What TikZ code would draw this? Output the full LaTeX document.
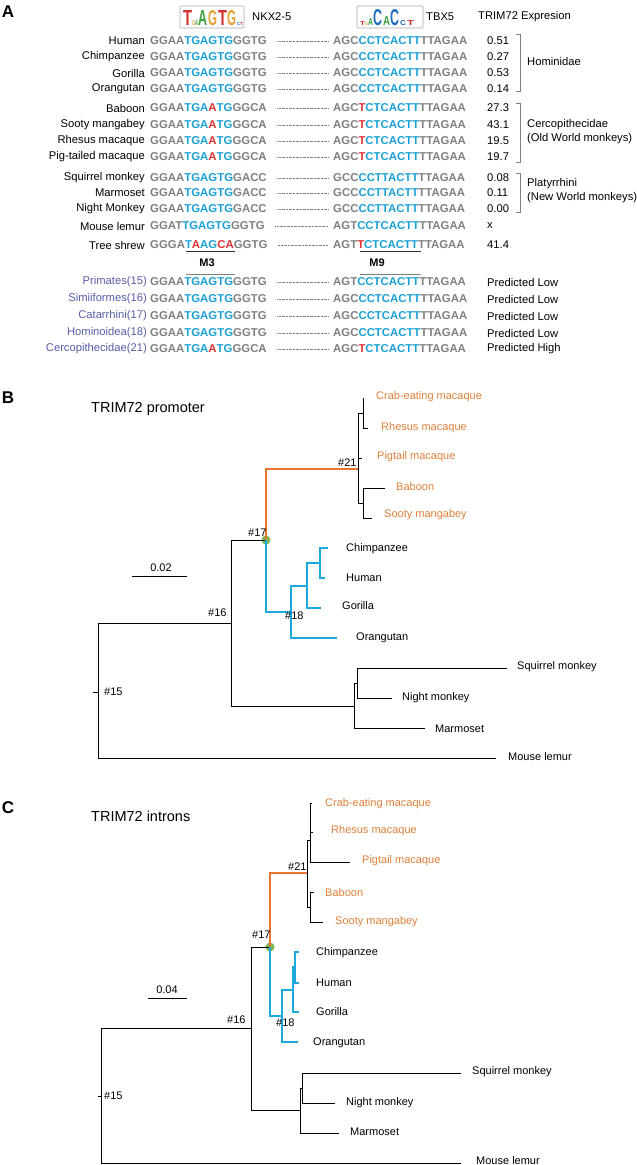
\documentclass[tikz,border=0pt]{standalone}
\usepackage{fontspec}
\setmainfont{Liberation Sans}
\usepackage{graphicx}
\usepackage{xcolor}
\usepackage{tikz}
\usetikzlibrary{calc}

\definecolor{seqblue}{RGB}{27,160,214}
\definecolor{seqgray}{RGB}{128,128,128}
\definecolor{seqred}{RGB}{220,50,50}
\definecolor{ancpurple}{RGB}{88,92,168}
\definecolor{oldworld}{RGB}{222,128,58}
\definecolor{branchorange}{RGB}{232,118,50}
\definecolor{branchcyan}{RGB}{28,170,222}
\definecolor{nodegreen}{RGB}{118,184,82}
\definecolor{logored}{RGB}{214,48,48}
\definecolor{logogreen}{RGB}{60,160,60}
\definecolor{logoorange}{RGB}{232,160,50}
\definecolor{logoblue}{RGB}{30,110,190}

\newcommand{\sqg}[1]{\textcolor{seqgray}{#1}}
\newcommand{\sqb}[1]{\textcolor{seqblue}{#1}}
\newcommand{\sqr}[1]{\textcolor{seqred}{#1}}

\begin{document}
\begin{tikzpicture}[x=1pt, y=-1pt,
    txt/.style={inner sep=0, font=\fontsize{11.2}{13}\selectfont},
    spname/.style={txt, anchor=east},
    seqtext/.style={inner sep=0, anchor=west, font=\fontsize{11.4}{13}\selectfont\bfseries},
    valtext/.style={txt, anchor=west},
    dotline/.style={seqgray, line width=0.5pt, dash pattern=on 0.5pt off 0.9pt},
    brk/.style={gray, line width=0.6pt},
    logolet/.style={anchor=south west, inner sep=0},
    panel/.style={inner sep=0, font=\fontsize{17}{18}\selectfont\bfseries},
    tip/.style={txt, anchor=west, font=\fontsize{11}{13}\selectfont},
    owtip/.style={tip, text=oldworld},
    nlab/.style={tip},
    br/.style={line width=0.9pt},
    orbr/.style={line width=2pt, branchorange},
    cybr/.style={line width=2pt, branchcyan}]

    \useasboundingbox (0,0) rectangle (637,1165);

    % ---------------- panel A ----------------
    \node[panel] (pA) at (8,12) {A};

    % logos
    \draw[gray!70, line width=0.6pt, rounded corners=1pt] (180,6) rectangle (244,28);
    \foreach \i/\x/\w/\h/\c/\l in {1/183/9/15/logored/T, 2/192/3/5/logoorange/G,
        3/195/3/5/logogreen/A, 4/198/9/15/logogreen/A, 5/208/9/15/logoorange/G,
        6/218/9/15/logored/T, 7/227/9/15/logoorange/G, 8/237/3/3/logoblue/C,
        9/240/3/3/logored/T}
      \node[logolet] (nk\i) at (\x,26) {\resizebox{\w pt}{\h pt}{\textcolor{\c}{\bfseries \l}}};
    \node[txt, anchor=west] (nkx) at (252,17) {NKX2-5};

    \draw[gray!70, line width=0.6pt, rounded corners=1pt] (357,6) rectangle (423,28);
    \foreach \i/\x/\w/\h/\c/\l in {1/360/5/4/logored/T, 2/365/3/3/logoorange/G,
        3/368/5/7/logogreen/A, 4/373/9/16/logoblue/C, 5/383/7/9/logogreen/A,
        6/390/9/16/logoblue/C, 7/400/6/5/logoblue/C, 8/407/7/5/logored/T}
      \node[logolet] (tb\i) at (\x,26) {\resizebox{\w pt}{\h pt}{\textcolor{\c}{\bfseries \l}}};
    \node[txt, anchor=west] (tbx) at (426,17) {TBX5};
    \node[txt, anchor=west] (expr) at (478,17) {TRIM72 Expresion};

    % species rows
    \foreach \i/\yy/\nm/\lsq/\rsq/\val in {
      1/41/Human/{\sqg{GGAA}\sqb{TGAGTG}\sqg{GGTG}}/{\sqg{AGC}\sqb{CCTCACTT}\sqg{TTAGAA}}/0.51,
      2/57/Chimpanzee/{\sqg{GGAA}\sqb{TGAGTG}\sqg{GGTG}}/{\sqg{AGC}\sqb{CCTCACTT}\sqg{TTAGAA}}/0.27,
      3/73/Gorilla/{\sqg{GGAA}\sqb{TGAGTG}\sqg{GGTG}}/{\sqg{AGC}\sqb{CCTCACTT}\sqg{TTAGAA}}/0.53,
      4/89/Orangutan/{\sqg{GGAA}\sqb{TGAGTG}\sqg{GGTG}}/{\sqg{AGC}\sqb{CCTCACTT}\sqg{TTAGAA}}/0.14,
      5/108/Baboon/{\sqg{GGAA}\sqb{TGA}\sqr{A}\sqb{TG}\sqg{GGCA}}/{\sqg{AGC}\sqr{T}\sqb{CTCACTT}\sqg{TTAGAA}}/27.3,
      6/125/Sooty mangabey/{\sqg{GGAA}\sqb{TGA}\sqr{A}\sqb{TG}\sqg{GGCA}}/{\sqg{AGC}\sqr{T}\sqb{CTCACTT}\sqg{TTAGAA}}/43.1,
      7/141/Rhesus macaque/{\sqg{GGAA}\sqb{TGA}\sqr{A}\sqb{TG}\sqg{GGCA}}/{\sqg{AGC}\sqr{T}\sqb{CTCACTT}\sqg{TTAGAA}}/19.5,
      8/157/Pig-tailed macaque/{\sqg{GGAA}\sqb{TGA}\sqr{A}\sqb{TG}\sqg{GGCA}}/{\sqg{AGC}\sqr{T}\sqb{CTCACTT}\sqg{TTAGAA}}/19.7,
      9/178/Squirrel monkey/{\sqg{GGAA}\sqb{TGAGTG}\sqg{GACC}}/{\sqg{GCC}\sqb{CCTTACTT}\sqg{TTAGAA}}/0.08,
      10/193/Marmoset/{\sqg{GGAA}\sqb{TGAGTG}\sqg{GACC}}/{\sqg{GCC}\sqb{CCTTACTT}\sqg{TTAGAA}}/0.11,
      11/209/Night Monkey/{\sqg{GGAA}\sqb{TGAGTG}\sqg{GACC}}/{\sqg{GCC}\sqb{CCTTACTT}\sqg{TTAGAA}}/0.00,
      12/226/Mouse lemur/{\sqg{GGAT}\sqb{TGAGTG}\sqg{GGTG}}/{\sqg{AGT}\sqb{CCTCACTT}\sqg{TTAGAA}}/x,
      13/245/Tree shrew/{\sqg{GGGA}\sqb{T}\sqr{A}\sqb{AG}\sqr{CA}\sqg{GGTG}}/{\sqg{AGT}\sqr{T}\sqb{CTCACTT}\sqg{TTAGAA}}/41.4}
    {
      \node[spname] (nm\i) at (145,\yy) {\nm};
      \node[seqtext] (ls\i) at (150,\yy) {\lsq};
      \node[seqtext] (rs\i) at (333,\yy) {\rsq};
      \draw[dotline] ([xshift=10.5pt]ls\i.east) -- ([xshift=-5pt]rs\i.west);
      \node[valtext] (vl\i) at (487,\yy) {\val};
    }

    % predicted ancestors
    \foreach \i/\yy/\nm/\lsq/\rsq/\val in {
      14/282/Primates(15)/{\sqg{GGAA}\sqb{TGAGTG}\sqg{GGTG}}/{\sqg{AGT}\sqb{CCTCACTT}\sqg{TTAGAA}}/Predicted Low,
      15/299/Simiiformes(16)/{\sqg{GGAA}\sqb{TGAGTG}\sqg{GGTG}}/{\sqg{AGC}\sqb{CCTCACTT}\sqg{TTAGAA}}/Predicted Low,
      16/316/Catarrhini(17)/{\sqg{GGAA}\sqb{TGAGTG}\sqg{GGTG}}/{\sqg{AGC}\sqb{CCTCACTT}\sqg{TTAGAA}}/Predicted Low,
      17/333/Hominoidea(18)/{\sqg{GGAA}\sqb{TGAGTG}\sqg{GGTG}}/{\sqg{AGC}\sqb{CCTCACTT}\sqg{TTAGAA}}/Predicted Low,
      18/349/Cercopithecidae(21)/{\sqg{GGAA}\sqb{TGA}\sqr{A}\sqb{TG}\sqg{GGCA}}/{\sqg{AGC}\sqr{T}\sqb{CTCACTT}\sqg{TTAGAA}}/Predicted High}
    {
      \node[spname, text=ancpurple] (nm\i) at (147,\yy) {\nm};
      \node[seqtext] (ls\i) at (150,\yy) {\lsq};
      \node[seqtext] (rs\i) at (333,\yy) {\rsq};
      \draw[dotline] ([xshift=10.5pt]ls\i.east) -- ([xshift=-5pt]rs\i.west);
      \node[valtext] (vl\i) at (487,\yy) {\val};
    }

    % motif marks
    \draw[line width=0.8pt, black!80] (186,251) -- (235,251);
    \draw[line width=0.8pt, black!80] (360,251) -- (421,251);
    \node[txt, font=\fontsize{11}{13}\selectfont\bfseries] (mthree) at (207,263) {M3};
    \node[txt, font=\fontsize{11}{13}\selectfont\bfseries] (mnine) at (377,263) {M9};
    \draw[line width=0.8pt, gray] (186,274) -- (235,274);
    \draw[line width=0.8pt, gray] (360,274) -- (421,274);

    % brackets
    \draw[brk] (516,34) -- (520,34) -- (520,91) -- (516,91);
    \draw[brk] (516,103) -- (520,103) -- (520,162) -- (516,162);
    \draw[brk] (516,173) -- (520,173) -- (520,212) -- (516,212);
    \node[txt, anchor=west] (homg) at (527,61) {Hominidae};
    \node[txt, anchor=west, align=left, font=\fontsize{11.2}{14}\selectfont] (cerg) at (527,132)
      {Cercopithecidae\\(Old World monkeys)};
    \node[txt, anchor=west, align=left, font=\fontsize{11.2}{14}\selectfont] (plag) at (527,191)
      {Platyrrhini\\(New World monkeys)};

    % ---------------- panel B ----------------
    \node[panel] (pB) at (8,398) {B};
    \node[txt, anchor=west, font=\fontsize{14.5}{16}\selectfont] (ttlB) at (91,409) {TRIM72 promoter};

    % scale bar
    \draw[br] (132,576) -- (187,576);
    \node[tip, anchor=center] (sclB) at (161,568) {0.02};

    % node 17 marker
    \fill[nodegreen] (266,540) circle (4.5);

    % backbone
    \draw[br] (93,692) -- (98,692);
    \draw[br] (231,623) -- (98,623) -- (98,758) -- (496,758);
    \draw[br] (266,540) -- (231,540) -- (231,706) -- (354,706);
    % old world clade
    \draw[orbr] (266,540) -- (266,469) -- (358,469);
    \draw[br] (358,413) -- (358,503);
    \draw[br] (358,413) -- (363,413);
    \draw[br] (363,398) -- (363,428) -- (368,428);
    \draw[br] (358,458) -- (362,458);
    \draw[br] (358,503) -- (363,503);
    \draw[br] (385,488) -- (363,488) -- (363,518) -- (372,518);
    % great apes
    \draw[cybr] (266,540) -- (266,612) -- (291,612);
    \draw[cybr] (307,586) -- (291,586) -- (291,638) -- (337,638);
    \draw[cybr] (320,563) -- (307,563) -- (307,608) -- (321,608);
    \draw[cybr] (328,548) -- (320,548) -- (320,578) -- (325,578);
    % new world clade
    \draw[br] (357,683) -- (354,683) -- (354,728) -- (425,728);
    \draw[br] (507,668) -- (357,668) -- (357,698) -- (392,698);

    \foreach \nm/\x/\y/\t in {crabB/376/397/Crab-eating macaque, rhesB/381/428/Rhesus macaque,
        pigB/377/457/Pigtail macaque, babB/396/487/Baboon, sootB/384/515/Sooty mangabey}
      \node[owtip] (\nm) at (\x,\y) {\t};
    \foreach \nm/\x/\y/\t in {chimpB/346/549/Chimpanzee, humB/346/578/Human,
        gorB/342/606/Gorilla, oraB/356/638/Orangutan, sqB/517/667/Squirrel monkey,
        nightB/402/698/Night monkey, marB/435/729/Marmoset, lemB/508/757/Mouse lemur}
      \node[tip] (\nm) at (\x,\y) {\t};
    \foreach \nm/\x/\y/\t in {nfifB/104/692/\#15, nsixB/208/613/\#16, nsevB/248/533/\#17,
        neigB/285/616/\#18, ntwoB/338/463/\#21}
      \node[nlab] (\nm) at (\x,\y) {\t};

    % ---------------- panel C ----------------
    \node[panel] (pC) at (8,808) {C};
    \node[txt, anchor=west, font=\fontsize{14.5}{16}\selectfont] (ttlC) at (91,816) {TRIM72 introns};

    % scale bar
    \draw[br] (148,998) -- (187,998);
    \node[tip, anchor=center] (sclC) at (167,990) {0.04};

    % node 17 marker
    \fill[nodegreen] (270,947) circle (4.5);

    % backbone
    \draw[br] (98,1096) -- (101,1096);
    \draw[br] (251,1028) -- (101,1028) -- (101,1163) -- (461,1163);
    \draw[br] (270,947) -- (251,947) -- (251,1110) -- (300,1110);
    % old world clade
    \draw[orbr] (270,947) -- (270,873) -- (307,873);
    \draw[br] (307,840) -- (307,907);
    \draw[br] (307,840) -- (310,840);
    \draw[br] (312,803) -- (310,803) -- (310,862) -- (350,862);
    \draw[br] (310,832) -- (313,832);
    \draw[br] (307,907) -- (310,907);
    \draw[br] (314,892) -- (310,892) -- (310,922) -- (323,922);
    % great apes
    \draw[cybr] (270,947) -- (270,1016) -- (282,1016);
    \draw[cybr] (293,990) -- (282,990) -- (282,1042) -- (298,1042);
    \draw[cybr] (295,967) -- (293,967) -- (293,1012) -- (299,1012);
    \draw[cybr] (299,952) -- (295,952) -- (295,983) -- (299,983);
    % new world clade
    \draw[br] (302,1088) -- (300,1088) -- (300,1133) -- (339,1133);
    \draw[br] (461,1073) -- (302,1073) -- (302,1103) -- (335,1103);

    \foreach \nm/\x/\y/\t in {crabC/325/804/Crab-eating macaque, rhesC/331/831/Rhesus macaque,
        pigC/362/861/Pigtail macaque, babC/325/893/Baboon, sootC/335/922/Sooty mangabey}
      \node[owtip] (\nm) at (\x,\y) {\t};
    \foreach \nm/\x/\y/\t in {chimpC/316/953/Chimpanzee, humC/316/983/Human,
        gorC/316/1012/Gorilla, oraC/313/1043/Orangutan, sqC/472/1072/Squirrel monkey,
        nightC/346/1103/Night monkey, marC/350/1132/Marmoset, lemC/476/1161/Mouse lemur}
      \node[tip] (\nm) at (\x,\y) {\t};
    \foreach \nm/\x/\y/\t in {nfifC/104/1096/\#15, nsixC/227/1020/\#16, nsevC/252/935/\#17,
        neigC/276/1023/\#18, ntwoC/288/867/\#21}
      \node[nlab] (\nm) at (\x,\y) {\t};
\end{tikzpicture}
\end{document}
